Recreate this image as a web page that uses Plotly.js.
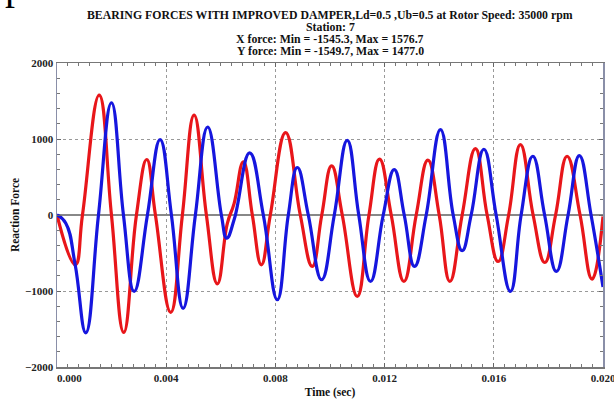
<!DOCTYPE html>
<html>
<head>
<meta charset="utf-8">
<script src="https://cdn.plot.ly/plotly-3.0.1.min.js"></script>
<style>html,body{margin:0;padding:0;background:#fff;}#chart{width:614px;height:401px;}</style>
</head>
<body>
<div id="chart"></div>
<script>
// Time in milliseconds (converted to seconds below)
const xTimeMs = [0, 0.666, 0.933, 1.545, 1.995, 2.445, 2.910, 3.287, 3.605, 4.165, 4.593, 5.022, 5.472, 5.874, 6.240, 6.486, 6.826, 7.155, 7.485, 7.814, 8.374, 8.912, 9.351, 9.699, 10.058, 10.449, 10.998, 11.427, 11.814, 12.243, 12.708, 13.158, 13.586, 14.000, 14.391, 14.841, 15.328, 15.756, 16.159, 16.543, 16.975, 17.440, 17.868, 18.263, 18.684, 19.160, 19.599, 20.0];
const xForce = [0, -655, 0, 1576.7, 0, -1545.3, 0, 730, 0, -1280, 0, 1315, 0, -905, -110, 150, 700, 0, -655, 0, 1084, 0, -677, 0, 646, 0, -1071, 0, 734, 0, -874, 0, 721, 0, -874, 0, 874, 0, -612, 0, 926, 0, -625, 0, 773, 0, -843, -20];

const yTimeMs = [0, 0.322, 0.666, 1.054, 1.519, 1.995, 2.434, 2.826, 3.312, 3.777, 4.191, 4.619, 5.069, 5.519, 6.021, 6.215, 6.497, 7.056, 7.558, 8.070, 8.473, 8.802, 9.205, 9.692, 10.157, 10.632, 11.053, 11.485, 11.950, 12.353, 12.719, 13.095, 13.524, 14.047, 14.512, 14.841, 15.171, 15.636, 16.086, 16.609, 17.001, 17.429, 17.861, 18.293, 18.721, 19.134, 19.563, 20.0];
const yForce = [0, -109, -655, -1549.7, 0, 1477.0, 0, -1005, 0, 992, 0, -1228, 0, 1158, 0, -305, -50, 817, 0, -1115, 0, 625, 0, -852, 0, 983, 0, -874, 0, 598, 0, -677, 0, 1123, 0, -468, 0, 865, 0, -1005, 0, 773, 0, -743, 0, 782, 0, -948];

const titleLines = [
  "BEARING FORCES WITH IMPROVED DAMPER,Ld=0.5 ,Ub=0.5 at Rotor Speed: 35000 rpm",
  "Station: 7",
  "X force: Min = -1545.3, Max = 1576.7",
  "Y force: Min = -1549.7, Max = 1477.0"
];
const xTickVals = [0, 0.004, 0.008, 0.012, 0.016, 0.020];
const xTickText = ["&nbsp;&nbsp;&nbsp;&nbsp;&nbsp;&nbsp;&nbsp;&nbsp;&nbsp;0.000", "0.004", "0.008", "0.012", "0.016", "0.020"];
const yTickVals = [-2000, -1000, 0, 1000, 2000];

const serif = "Liberation Serif, Times New Roman, serif";

const traces = [
  {x: xTimeMs.map(v => v / 1000), y: xForce, mode: 'lines', name: 'X force',
   line: {color: 'rgb(232,22,26)', width: 3.2, shape: 'spline', smoothing: 1.3}},
  {x: yTimeMs.map(v => v / 1000), y: yForce, mode: 'lines', name: 'Y force',
   line: {color: 'rgb(22,22,222)', width: 3.2, shape: 'spline', smoothing: 1.3}}
];

// plot area: top 63px, height 304px
const lineCentersPx = [15, 27, 39, 51];
const annotations = titleLines.map((s, i) => ({
  text: '<b>' + s + '</b>', xref: 'paper', yref: 'paper',
  x: 0.5, y: 1 + (63 - lineCentersPx[i]) / 304, xanchor: 'center', yanchor: 'middle',
  showarrow: false, font: {family: serif, size: 11.8, color: '#111'}
}));
// fragment of a letter from surrounding page, visible at top-left
annotations.push({
  text: 'p', xref: 'paper', yref: 'paper', x: (3 - 57) / 546, y: 1 + (63 - 10) / 304,
  xanchor: 'left', yanchor: 'bottom', showarrow: false,
  font: {family: serif, size: 40, color: '#000'}
});

const layout = {
  width: 614, height: 401,
  margin: {l: 57, r: 11, t: 63, b: 34},
  paper_bgcolor: '#fff', plot_bgcolor: '#fff',
  showlegend: false,
  font: {family: serif, color: '#111'},
  annotations: annotations,
  xaxis: {
    range: [0, 0.020],
    tickvals: xTickVals, ticktext: xTickText,
    tickfont: {family: serif, size: 11, color: '#222', weight: 'bold'},
    ticklabeloverflow: 'allow',
    ticks: 'inside', ticklen: 4, tickcolor: '#666',
    showgrid: true, gridcolor: '#999', griddash: 'dot', gridwidth: 1,
    showline: true, linecolor: '#777', linewidth: 1.5, mirror: 'allticks',
    zeroline: false,
    minor: {dtick: 0.0004, ticks: 'inside', ticklen: 3, tickcolor: '#777', showgrid: false},
    title: {text: '<b>Time (sec)</b>', font: {family: serif, size: 11.5, color: '#111'}, standoff: 5}
  },
  yaxis: {
    range: [-2000, 2000],
    tickvals: yTickVals,
    tickfont: {family: serif, size: 11, color: '#222', weight: 'bold'},
    ticklabeloverflow: 'allow',
    ticks: 'inside', ticklen: 4, tickcolor: '#666',
    showgrid: true, gridcolor: '#999', griddash: 'dot', gridwidth: 1,
    showline: true, linecolor: '#8a8fa8', linewidth: 1.5, mirror: 'allticks',
    zeroline: true, zerolinecolor: '#888', zerolinewidth: 2,
    minor: {dtick: 200, ticks: 'inside', ticklen: 3, tickcolor: '#777', showgrid: false},
    title: {text: '<b>Reaction Force</b>', font: {family: serif, size: 11.5, color: '#111'}, standoff: 3}
  }
};

Plotly.newPlot('chart', traces, layout, {displayModeBar: false, staticPlot: true});
</script>
</body>
</html>
